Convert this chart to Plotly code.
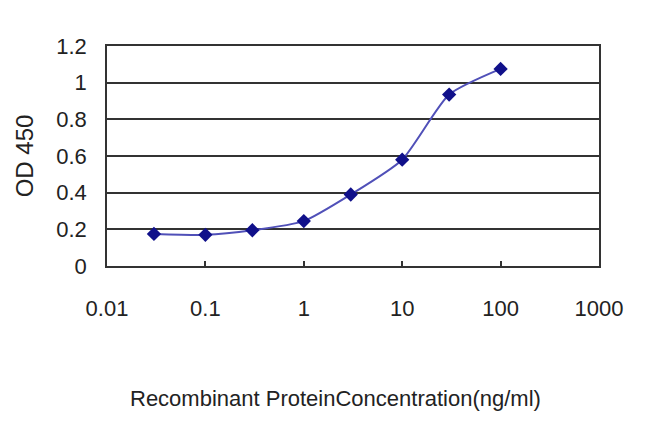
import plotly.graph_objects as go

concentration = [0.03, 0.1, 0.3, 1, 3, 10, 30, 100]
od450 = [0.175, 0.17, 0.195, 0.245, 0.39, 0.58, 0.935, 1.075]

x_tickvals = [0.01, 0.1, 1, 10, 100, 1000]
x_ticktext = ["0.01", "0.1", "1", "10", "100", "1000"]
y_tickvals = [0, 0.2, 0.4, 0.6, 0.8, 1.0, 1.2]
y_ticktext = ["0", "0.2", "0.4", "0.6", "0.8", "1", "1.2"]
x_title = "Recombinant ProteinConcentration(ng/ml)"
y_title = "OD 450"

FONT = "Liberation Sans, Arial, sans-serif"

fig = go.Figure()
fig.add_trace(go.Scatter(
    x=concentration, y=od450,
    mode="lines+markers",
    line=dict(color="#5050b8", width=2, shape="spline", smoothing=0.6),
    marker=dict(symbol="diamond", size=11, color="#10108a"),
    showlegend=False,
))

fig.update_layout(
    width=650, height=433,
    margin=dict(l=99, r=59, t=38, b=175, autoexpand=False),
    paper_bgcolor="white", plot_bgcolor="white",
    font=dict(family=FONT, size=22, color="#222222"),
)
fig.update_xaxes(
    type="log", range=[-2, 3],
    tickvals=x_tickvals, ticktext=x_ticktext,
    ticks="inside", ticklen=5, tickwidth=1.5, tickcolor="#333333",
    ticklabelstandoff=22,
    showgrid=False, zeroline=False,
    showline=True, linecolor="#333333", linewidth=1.5, mirror=True,
    tickfont=dict(family=FONT, size=22),
    automargin=False,
)
fig.add_annotation(
    text=x_title, xref="paper", yref="paper",
    x=0.4654, y=-0.6045, xanchor="center", yanchor="middle",
    showarrow=False, font=dict(family=FONT, size=22, color="#222222"),
)
fig.update_yaxes(
    range=[0, 1.2],
    tickvals=y_tickvals, ticktext=y_ticktext,
    ticks="", showgrid=True, gridcolor="#333333", gridwidth=2,
    ticklabelstandoff=14,
    zeroline=False,
    showline=True, linecolor="#333333", linewidth=1.5, mirror=True,
    tickfont=dict(family=FONT, size=22),
    title=dict(text=y_title, font=dict(family=FONT, size=24), standoff=16),
    automargin=False,
)

fig.write_html("out.html")
